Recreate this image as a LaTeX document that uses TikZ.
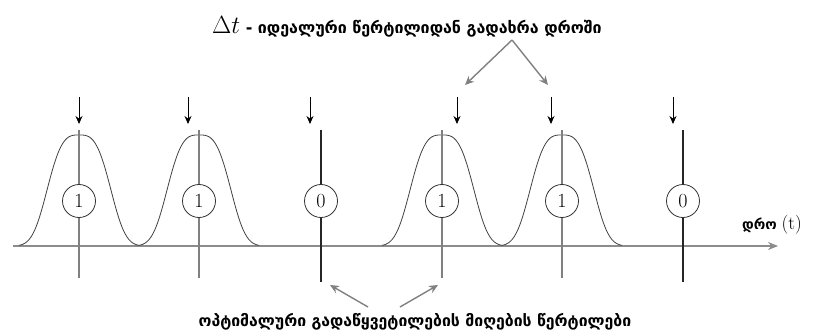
\documentclass[tikz,border=0pt]{standalone}
\usepackage{fontspec}
\newfontfamily\geo{DejaVu Sans}
\usetikzlibrary{arrows.meta}

\tikzset{
  timeaxis/.style={draw=black!45, line width=1.3pt, -{Stealth[length=10pt,width=8pt]}},
  pulse/.style={draw=black!75, line width=0.8pt},
  midline/.style={draw=black!50, line width=1.1pt},
  zeroline/.style={draw=black!85, line width=1.1pt},
  tick/.style={draw=black, line width=0.8pt, -{Stealth[length=8pt,width=7pt]}},
  callout/.style={draw=black!50, line width=1.4pt, -{Stealth[length=9pt,width=8pt]}},
  bit/.style={circle, draw=black!80, line width=0.8pt, fill=white, minimum size=33pt, inner sep=0pt, font=\fontsize{20}{22}\selectfont},
  geolbl/.style={font=\geo\bfseries\fontsize{14}{16}\selectfont, inner sep=0pt}
}

\begin{document}
\begin{tikzpicture}[x=1pt,y=1pt]
\useasboundingbox (0,0) rectangle (816,335);

% ===== Time axis =====
\coordinate (t0) at (13,89);
\coordinate (t1) at (778,89);
\draw[timeaxis] (t0) -- (t1);
\node[geolbl, anchor=west] (time) at (742,110) {დრო {\rmfamily\mdseries\fontsize{19}{21}\selectfont (t)}};

% ===== Pulses (bit 1) =====
\foreach \c/\n in {79/a,199/b,442/d,562/e} {
    \draw[pulse] plot[domain=-60:60, samples=61, smooth] ({\c+\x},{89+111*exp(-pow(abs(\x)/36,3.2))});
    \coordinate (top\n) at (\c,205);
    \coordinate (bot\n) at (\c,57);
    \draw[midline] (top\n) -- (bot\n);
    \node[bit] (bit\n) at (\c,134) {1};
}

% ===== No pulse (bit 0) =====
\foreach \c/\n in {321/c,683/f} {
    \coordinate (top\n) at (\c,205);
    \coordinate (bot\n) at (\c,53);
    \draw[zeroline] (top\n) -- (bot\n);
    \node[bit] (bit\n) at (\c,134) {0};
}

% ===== Sampling arrows =====
\foreach \c/\n in {79/a,188/b,310/c,457/d,551/e,673/f} {
    \coordinate (s\n) at (\c,238);
    \coordinate (e\n) at (\c,211);
    \draw[tick] (s\n) -- (e\n);
}

% ===== Top label =====
\node[geolbl, font=\geo\bfseries\fontsize{16}{18}\selectfont] (dev) at (407,308) {{\rmfamily\mdseries\fontsize{30}{32}\selectfont$\Delta t$} - იდეალური წერტილიდან გადახრა დროში};
\coordinate (devpt) at (512,295);
\coordinate (pd) at (465,250);
\coordinate (pe) at (548,250);
\draw[callout] (devpt) -- (pd);
\draw[callout] (devpt) -- (pe);

% ===== Bottom label =====
\node[geolbl, font=\geo\bfseries\fontsize{15.8}{18}\selectfont] (opt) at (415,13) {ოპტიმალური გადაწყვეტილების მიღების წერტილები};
\coordinate (optl) at (368,28);
\coordinate (optr) at (400,28);
\coordinate (pc) at (330,50);
\coordinate (pd2) at (438,50);
\draw[callout] (optl) -- (pc);
\draw[callout] (optr) -- (pd2);

\end{tikzpicture}
\end{document}
